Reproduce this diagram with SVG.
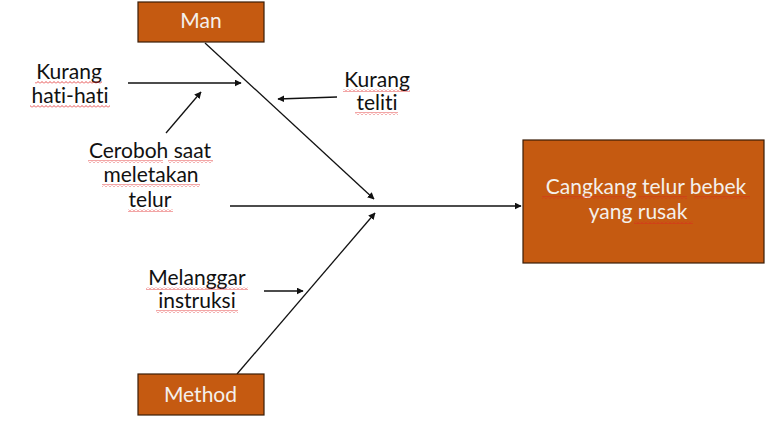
<svg xmlns="http://www.w3.org/2000/svg" width="780" height="423" viewBox="0 0 780 423">
<style>
.box{fill:#C55A11;stroke:#3a1d08;stroke-width:1.2}
.bt{font-family:Lato,"Open Sans",sans-serif;font-size:21px;fill:#F4F0EC;text-anchor:middle;font-variant-ligatures:none;font-feature-settings:"liga" 0,"clig" 0}
.t{font-family:Lato,"Open Sans",sans-serif;font-size:21px;fill:#111;text-anchor:middle;font-variant-ligatures:none;font-feature-settings:"liga" 0,"clig" 0}
.c{stroke:#111;stroke-width:1.3;fill:none;marker-end:url(#ah)}
.sq{fill:url(#wave)}
</style>
<defs>
<marker id="ah" viewBox="0 0 10 10" refX="9" refY="5" markerWidth="7" markerHeight="7" markerUnits="userSpaceOnUse" orient="auto">
<path d="M0,0 L10,5 L0,10 z" fill="#111"/>
</marker>
<pattern id="wave" patternUnits="userSpaceOnUse" width="4" height="3">
<path d="M0,2.5 L2,0.5 L4,2.5" stroke="#e02020" stroke-width="0.8" fill="none"/>
</pattern>
</defs>
<g id="connectors">
<line class="c" x1="230" y1="206" x2="521" y2="206"/>
<line class="c" x1="205" y1="43" x2="374" y2="199"/>
<line class="c" x1="237" y1="374" x2="375" y2="213"/>
<line class="c" x1="128" y1="83" x2="241" y2="83"/>
<line class="c" x1="166" y1="133" x2="201" y2="92"/>
<line class="c" x1="337" y1="97" x2="278" y2="99"/>
<line class="c" x1="264" y1="291" x2="303" y2="291"/>
</g>
<g id="man">
<rect class="box" x="138" y="2" width="126" height="40"/>
<text class="bt" x="201" y="28">Man</text>
</g>
<g id="method">
<rect class="box" x="138" y="374" width="126" height="41"/>
<text class="bt" x="200.5" y="402">Method</text>
</g>
<g id="effect">
<rect class="box" x="523" y="140" width="241" height="123"/>
<text class="bt" x="646" y="194">Cangkang telur bebek</text>
<text class="bt" x="638" y="219">yang rusak</text>
</g>
<g id="cause-kurang-hati-hati">
<text class="t" x="69" y="79">Kurang</text>
<text class="t" x="70" y="103">hati-hati</text>
</g>
<g id="cause-kurang-teliti">
<text class="t" x="377" y="87">Kurang</text>
<text class="t" x="377" y="110">teliti</text>
</g>
<g id="cause-ceroboh">
<text class="t" x="150" y="158">Ceroboh saat</text>
<text class="t" x="151" y="182">meletakan</text>
<text class="t" x="150" y="207">telur</text>
</g>
<g id="cause-melanggar">
<text class="t" x="197" y="285">Melanggar</text>
<text class="t" x="197" y="308">instruksi</text>
</g>
<g id="spellcheck">
<rect class="sq" x="35" y="81" width="67" height="3"/>
<rect class="sq" x="30" y="105" width="80" height="3"/>
<rect class="sq" x="343" y="89" width="67" height="3"/>
<rect class="sq" x="355" y="112" width="43" height="3"/>
<rect class="sq" x="88" y="160" width="75" height="3"/>
<rect class="sq" x="168" y="160" width="45" height="3"/>
<rect class="sq" x="102" y="184" width="98" height="3"/>
<rect class="sq" x="128" y="209" width="45" height="3"/>
<rect class="sq" x="146" y="287" width="102" height="3"/>
<rect class="sq" x="156" y="310" width="82" height="3"/>
<rect class="sq" x="542" y="196" width="90" height="3"/>
<rect class="sq" x="638" y="196" width="49" height="3"/>
<rect class="sq" x="694" y="196" width="56" height="3"/>
<rect class="sq" x="634" y="221" width="59" height="3"/>
</g>
</svg>
